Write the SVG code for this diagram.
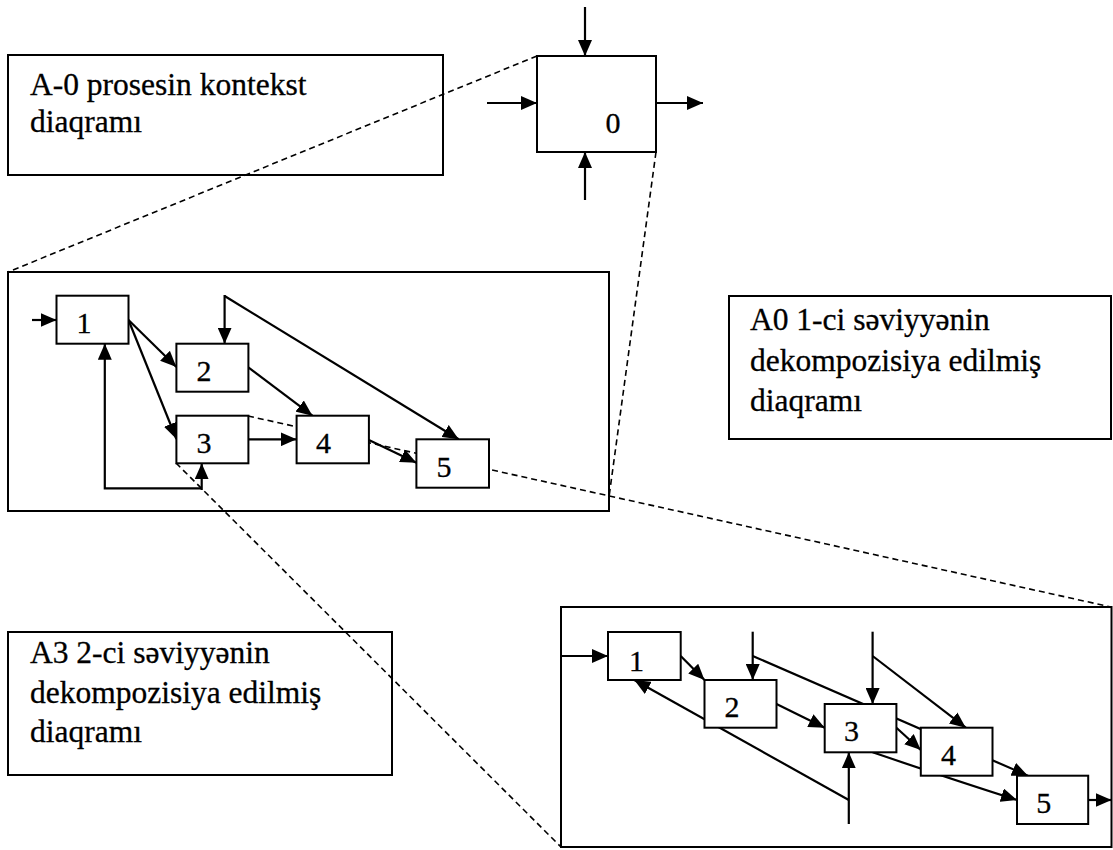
<svg xmlns="http://www.w3.org/2000/svg" width="1113" height="850" viewBox="0 0 1113 850">
<style>
.box{fill:#fff;stroke:#000;stroke-width:2}
.frame{fill:none;stroke:#000;stroke-width:2}
.arr{fill:none;stroke:#000;stroke-width:2.2;marker-end:url(#ah)}
.dash{fill:none;stroke:#000;stroke-width:1.6;stroke-dasharray:6,4}
.lbl{font-family:'Liberation Serif','Times New Roman',Times,serif;font-size:31.5px;fill:#000;stroke:#000;stroke-width:0.3}
.num{font-family:'Liberation Serif','Times New Roman',Times,serif;font-size:30px;fill:#000;stroke:#000;stroke-width:0.3;text-anchor:middle}
</style>
<defs>
<marker id="ah" viewBox="0 0 16 14" refX="16" refY="7" markerWidth="16" markerHeight="14" markerUnits="userSpaceOnUse" orient="auto">
<path d="M0,0 L16,7 L0,14 z" fill="#000"/>
</marker>
</defs>
<rect x="0" y="0" width="1113" height="850" fill="#fff"/>

<g id="label-a-0">
<rect class="frame" x="8" y="55" width="435" height="120"/>
<text class="lbl" x="30" y="95">A-0 prosesin kontekst</text>
<text class="lbl" x="30" y="132">diaqramı</text>
</g>

<g id="label-a0">
<rect class="frame" x="729" y="296" width="382" height="143"/>
<text class="lbl" x="750" y="330">A0 1-ci səviyyənin</text>
<text class="lbl" x="750" y="371">dekompozisiya edilmiş</text>
<text class="lbl" x="750" y="411">diaqramı</text>
</g>

<g id="label-a3">
<rect class="frame" x="8" y="632" width="384" height="143"/>
<text class="lbl" x="30" y="663">A3 2-ci səviyyənin</text>
<text class="lbl" x="30" y="703">dekompozisiya edilmiş</text>
<text class="lbl" x="30" y="742">diaqramı</text>
</g>

<g id="frame-a0"><rect class="frame" x="8" y="272" width="601" height="239"/></g>
<g id="frame-a3"><rect class="frame" x="561" y="607" width="550.5" height="240"/></g>

<g id="connectors">
<line class="dash" x1="537" y1="56" x2="8" y2="272"/>
<line class="dash" x1="656" y1="152" x2="609" y2="497"/>
<line class="dash" x1="248" y1="416" x2="1111" y2="607"/>
<line class="dash" x1="176" y1="463" x2="561" y2="847"/>

<line class="arr" x1="585" y1="7" x2="585" y2="56"/>
<line class="arr" x1="487" y1="103" x2="537" y2="103"/>
<line class="arr" x1="656" y1="103" x2="703" y2="103"/>
<line class="arr" x1="585" y1="200" x2="585" y2="152"/>

<line class="arr" x1="32" y1="320" x2="56.5" y2="320"/>
<line class="arr" x1="128.5" y1="320" x2="176.4" y2="367"/>
<line class="arr" x1="128.5" y1="320" x2="176.4" y2="439"/>
<line class="arr" x1="224.6" y1="296" x2="458.7" y2="439.3"/>
<line class="arr" x1="224.6" y1="295" x2="224.6" y2="343.7"/>
<line class="arr" x1="248.3" y1="367.3" x2="312.4" y2="415.7"/>
<line class="arr" x1="248.3" y1="439.3" x2="296.6" y2="439.3"/>
<line class="arr" x1="368.9" y1="440" x2="416.4" y2="462.7"/>
<line class="arr" x1="201.7" y1="490" x2="201.7" y2="463.3"/>
<polyline class="arr" points="201.7,488.3 104.8,488.3 104.8,343.7"/>

<line class="arr" x1="561" y1="656" x2="608" y2="656"/>
<line class="arr" x1="680.7" y1="656" x2="704.5" y2="680"/>
<line class="arr" x1="752.7" y1="631.7" x2="752.7" y2="680"/>
<line class="arr" x1="752.7" y1="656" x2="1027.9" y2="775.7"/>
<line class="arr" x1="872.6" y1="631.7" x2="872.6" y2="704"/>
<line class="arr" x1="872.6" y1="656" x2="965.8" y2="727.7"/>
<line class="arr" x1="776.5" y1="704" x2="824.7" y2="727.7"/>
<line class="arr" x1="896.4" y1="727.7" x2="920.8" y2="750"/>
<path class="arr" d="M872.6,752.3 Q960,782 1017,800"/>
<line class="arr" x1="848.8" y1="824" x2="848.8" y2="752.3"/>
<line class="arr" x1="848.8" y1="800" x2="634.3" y2="680"/>
<line class="arr" x1="1088.2" y1="800" x2="1111.5" y2="800"/>
</g>

<g id="node-0"><rect class="box" x="537" y="56" width="119" height="96"/><text class="num" x="613" y="133">0</text></g>

<g id="a0-node-1"><rect class="box" x="56.5" y="295.7" width="72" height="48"/><text class="num" x="84" y="332.7">1</text></g>
<g id="a0-node-2"><rect class="box" x="176.4" y="343.7" width="72" height="48"/><text class="num" x="204" y="381">2</text></g>
<g id="a0-node-3"><rect class="box" x="176.4" y="415.7" width="72" height="47.6"/><text class="num" x="204" y="453">3</text></g>
<g id="a0-node-4"><rect class="box" x="296.6" y="415.7" width="72.3" height="47.6"/><text class="num" x="323.4" y="453">4</text></g>
<g id="a0-node-5"><rect class="box" x="416.4" y="439.3" width="72.6" height="48.4"/><text class="num" x="444" y="476.7">5</text></g>

<g id="a3-node-1"><rect class="box" x="608" y="632" width="72.7" height="48"/><text class="num" x="636.5" y="670.5">1</text></g>
<g id="a3-node-2"><rect class="box" x="704.5" y="680" width="72" height="47.7"/><text class="num" x="732" y="716.7">2</text></g>
<g id="a3-node-3"><rect class="box" x="824.7" y="704" width="71.7" height="48.3"/><text class="num" x="851.4" y="741">3</text></g>
<g id="a3-node-4"><rect class="box" x="920.8" y="727.7" width="71.7" height="48"/><text class="num" x="948.6" y="765">4</text></g>
<g id="a3-node-5"><rect class="box" x="1017" y="775.7" width="71.2" height="48.3"/><text class="num" x="1043.7" y="812.7">5</text></g>
</svg>
